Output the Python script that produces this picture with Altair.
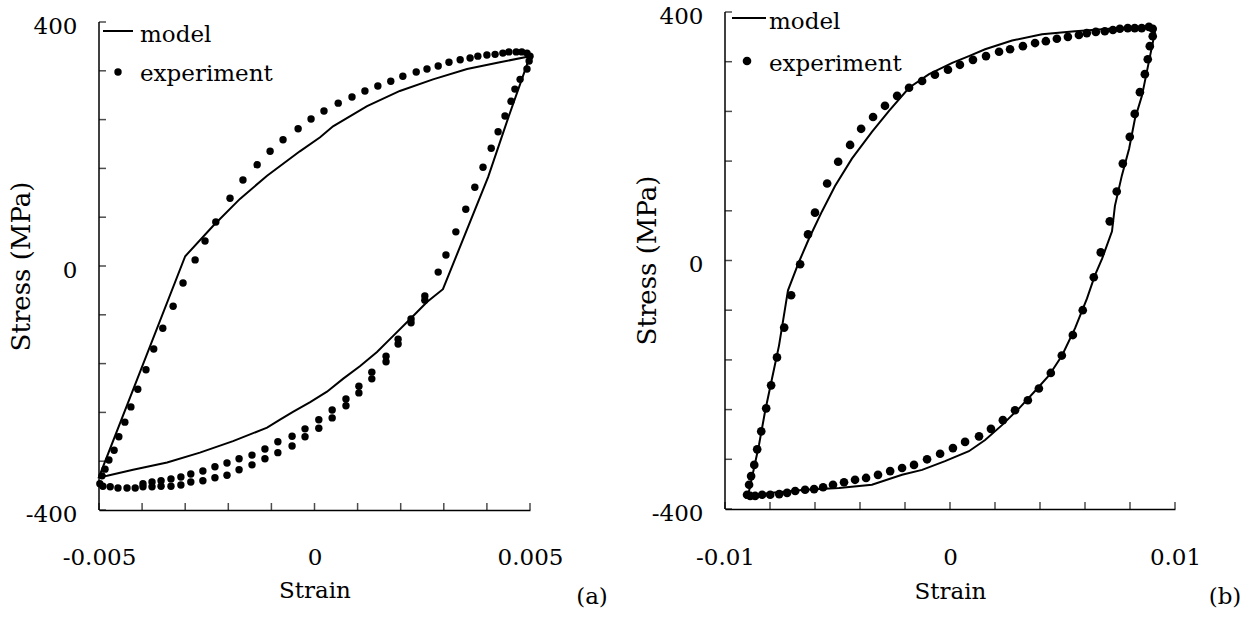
import altair as alt
import pandas as pd

FONT = "DejaVu Serif"
FS = 23

# ---------------- panel (a) ----------------
a_model_strain = [0.005, 0.00451, 0.00403, 0.00298, 0.00261, 0.00222, 0.00182, 0.00145, 0.00106,
                  0.00066, 0.00029, -0.0001, -0.0005, -0.0008, -0.0011, -0.00189, -0.00266,
                  -0.00342, -0.00421, -0.00481, -0.005, -0.003, -0.00235, -0.00173, -0.0011,
                  -0.00034, 0.00013, 0.00043, 0.00122, 0.00198, 0.00275, 0.00354, 0.0043, 0.005]
a_model_stress = [344, 246, 146, -38, -59, -87, -115, -141, -164, -185, -206, -223, -239, -252,
                  -265, -287, -306, -322, -334, -344, -346, 16, 66, 110, 148, 188, 211, 229, 262,
                  287, 306, 323, 334, 344]

a_load_strain = [-0.00498, -0.00493, -0.00486, -0.00477, -0.00465, -0.00454, -0.0044, -0.00426,
                 -0.0041, -0.00391, -0.00373, -0.00352, -0.00328, -0.00305, -0.00277, -0.00254,
                 -0.00229, -0.00196, -0.00166, -0.00133, -0.00103, -0.00073, -0.00038, -0.00008,
                 0.00022, 0.00055, 0.00087, 0.00117, 0.00147, 0.00177, 0.00205, 0.00236, 0.00261,
                 0.00287, 0.00312, 0.00338, 0.00361, 0.00379, 0.004, 0.00419, 0.00437, 0.00451,
                 0.00468, 0.00481, 0.00493, 0.005]
a_load_stress = [-357, -344, -333, -318, -302, -280, -256, -231, -202, -170, -136, -102, -66, -28,
                 10, 41, 72, 111, 141, 166, 188, 207, 225, 241, 254, 267, 277, 287, 295, 303, 311,
                 318, 323, 328, 334, 338, 341, 344, 346, 347, 349, 351, 351, 351, 349, 344]
a_unload_strain = [0.00498, 0.00493, 0.00477, 0.00465, 0.00456, 0.00442, 0.00426, 0.0041, 0.00391,
                   0.00372, 0.00351, 0.00328, 0.00305, 0.00287, 0.00256, 0.00256]
a_unload_stress = [336, 323, 306, 290, 270, 246, 220, 193, 162, 129, 93, 56, 18, -10, -49, -56]
a_lower_strain = [0.00224, 0.00194, 0.00166, 0.00133, 0.00103, 0.00073, 0.00041, 0.0001, -0.00022,
                  -0.00052, -0.00085, -0.00115, -0.00145, -0.00175, -0.00203, -0.00231, -0.00259,
                  -0.00287, -0.0031, -0.00333, -0.00356, -0.00377, -0.00398]
a_lower1_stress = [-87, -120, -148, -174, -197, -218, -236, -252, -267, -279, -288, -300, -310,
                   -316, -323, -329, -336, -341, -346, -349, -352, -354, -357]
a_lower2_stress = [-93, -128, -157, -185, -208, -229, -249, -266, -280, -295, -306, -316, -326,
                   -334, -343, -347, -352, -354, -359, -361, -361, -362, -362]
a_tail_strain = [-0.00416, -0.00435, -0.00456, -0.00474, -0.00491]
a_tail_stress = [-364, -364, -364, -362, -361]

a_exp_strain = a_load_strain + a_unload_strain + a_lower_strain + a_lower_strain + a_tail_strain
a_exp_stress = a_load_stress + a_unload_stress + a_lower1_stress + a_lower2_stress + a_tail_stress

# ---------------- panel (b) ----------------
b_model_strain = [-0.00911, -0.00893, -0.00871, -0.00849, -0.00822, -0.00791, -0.0076, -0.00733,
                  -0.0072, -0.00671, -0.00627, -0.00569, -0.00511, -0.00436, -0.00347, -0.00271,
                  -0.00182, -0.00093, 0.0001, 0.00084, 0.00156, 0.00276, 0.00409, 0.00556, 0.00707,
                  0.00822, 0.00907, 0.00911, 0.00889, 0.00853, 0.00822, 0.00796, 0.00764, 0.00733,
                  0.0072, 0.00676, 0.00644, 0.00609, 0.00556, 0.00498, 0.0044, 0.00378, 0.00307,
                  0.00231, 0.00156, 0.00084, -0.00022, -0.00124, -0.00213, -0.00347, -0.00493,
                  -0.00644, -0.00791, -0.00867, -0.00911]
b_model_stress = [-382, -371, -334, -297, -243, -190, -137, -77, -48, -2, 35, 79, 120, 164, 207, 241,
                  278, 300, 318, 329, 340, 354, 364, 369, 373, 376, 377, 368, 329, 265, 228, 180,
                  137, 88, 47, 3, -24, -61, -109, -153, -185, -210, -238, -265, -289, -307, -323,
                  -337, -345, -361, -366, -369, -374, -377, -382]

b_up_strain = [-0.00902, -0.00893, -0.00884, -0.0087, -0.00857, -0.00839, -0.00817, -0.00795,
               -0.00769, -0.00737, -0.00706, -0.00666, -0.00631, -0.006, -0.00546, -0.00497,
               -0.00444, -0.00395, -0.00342, -0.00289, -0.00235, -0.00182, -0.00124, -0.00067,
               -0.00009, 0.00044, 0.00102, 0.0016, 0.00218, 0.00267, 0.00324, 0.00378, 0.00426,
               0.00475, 0.00524, 0.00573, 0.00608, 0.00648, 0.00688, 0.00724, 0.00755, 0.0079,
               0.00821, 0.00852, 0.00884, 0.00901]
b_up_stress = [-377, -361, -347, -329, -304, -275, -238, -201, -156, -108, -56, -6, 42, 77, 124,
               159, 186, 212, 231, 249, 265, 278, 289, 299, 307, 315, 323, 329, 336, 340, 345, 350,
               353, 357, 360, 363, 366, 368, 369, 371, 373, 374, 374, 374, 376, 373]
b_down_strain = [0.00901, 0.00888, 0.00879, 0.00866, 0.00844, 0.00821, 0.00799, 0.00768, 0.00741,
                 0.0071, 0.0067, 0.00639, 0.0059, 0.00546, 0.00497, 0.00448, 0.00395, 0.00346,
                 0.00289, 0.00235, 0.00182, 0.00129, 0.00067, 0.00013, -0.00044, -0.00102, -0.0016,
                 -0.00213, -0.00266, -0.0032, -0.00373, -0.00422, -0.00471, -0.0052, -0.00564,
                 -0.00604, -0.00644, -0.00688, -0.00724, -0.00759, -0.00799, -0.00835, -0.00866,
                 -0.00888]
b_down_stress = [361, 345, 324, 300, 271, 236, 199, 156, 111, 63, 13, -27, -80, -120, -153, -181,
                 -206, -225, -241, -257, -271, -283, -292, -302, -311, -320, -329, -334, -339, -345,
                 -350, -353, -357, -361, -365, -368, -369, -371, -374, -376, -377, -377, -379, -379]

b_exp_strain = b_up_strain + b_down_strain
b_exp_stress = b_up_stress + b_down_stress

# ---------------- axes / labels ----------------
y_axis_range = [-400, 400]
y_ticks = [-400, -320, -240, -160, -80, 0, 80, 160, 240, 320, 400]
y_labels = [-400, 0, 400]
a_y_view = [-400, 416.4]          # panel (a) plot area reaches a little above its 400 tick
b_y_view = [-400, 400]
a_x_domain = [-0.005, 0.005]
a_x_ticks = [-0.005, -0.004, -0.003, -0.002, -0.001, 0, 0.001, 0.002, 0.003, 0.004, 0.005]
a_x_labels = [-0.005, 0, 0.005]
b_x_domain = [-0.01, 0.01]
b_x_ticks = [-0.01, -0.008, -0.006, -0.004, -0.002, 0, 0.002, 0.004, 0.006, 0.008, 0.01]
b_x_labels = [-0.01, 0, 0.01]
legend_labels = ["model", "experiment"]
x_title = "Strain"
y_title = "Stress (MPa)"
panel_tags = ["(a)", "(b)"]


def panel(model_x, model_y, exp_x, exp_y, x_domain, y_view, x_ticks, x_labels, w, h, dot_size,
          leg, tag, tag_pos, lab_pad, title_y, y_title_y):
    model = pd.DataFrame({"strain": model_x, "stress": model_y, "i": list(range(len(model_x)))})
    exp = pd.DataFrame({"strain": exp_x, "stress": exp_y})
    yt = pd.DataFrame({"stress": y_ticks, "strain": [x_domain[0]] * len(y_ticks)})
    xt = pd.DataFrame({"strain": x_ticks, "stress": [y_axis_range[0]] * len(x_ticks)})
    ydom = pd.DataFrame({"strain": [x_domain[0]], "stress": [y_axis_range[0]],
                         "stress2": [y_axis_range[1]]})

    xs = alt.Scale(domain=x_domain, nice=False, zero=False)
    ys = alt.Scale(domain=y_view, nice=False, zero=False)
    xax = alt.Axis(values=x_labels, labelExpr="'' + datum.value", title=x_title, ticks=False,
                   tickSize=0, grid=False, labelPadding=lab_pad, labelBaseline="alphabetic",
                   labelFlush=False, titleY=title_y, titleBaseline="alphabetic")
    yax = alt.Axis(values=y_labels, labelExpr="'' + datum.value", title=y_title, ticks=False,
                   tickSize=0, grid=False, domain=False, labelPadding=22, labelOffset=4,
                   labelFlush=False, titleX=-78, titleY=y_title_y, titleAngle=270,
                   titleBaseline="middle", titleAlign="center", titleFontSize=26)

    x_enc = alt.X("strain:Q", scale=xs, axis=xax)
    y_enc = alt.Y("stress:Q", scale=ys, axis=yax)

    line = alt.Chart(model).mark_line(color="black", strokeWidth=2).encode(
        x=x_enc, y=y_enc, order=alt.Order("i:Q"))
    dots = alt.Chart(exp).mark_circle(color="black", opacity=1, size=dot_size).encode(
        x=alt.X("strain:Q", scale=xs), y=alt.Y("stress:Q", scale=ys))
    ydomain = alt.Chart(ydom).mark_rule(color="black", strokeWidth=1.5).encode(
        x=alt.X("strain:Q", scale=xs), y=alt.Y("stress:Q", scale=ys), y2="stress2:Q")
    ytk = alt.Chart(yt).mark_tick(orient="horizontal", size=7, thickness=1.5, color="black",
                                  xOffset=3.5).encode(
        x=alt.X("strain:Q", scale=xs), y=alt.Y("stress:Q", scale=ys))
    xtk = alt.Chart(xt).mark_tick(orient="vertical", size=7, thickness=1.5, color="black",
                                  yOffset=-3.5).encode(
        x=alt.X("strain:Q", scale=xs), y=alt.Y("stress:Q", scale=ys))

    lx0, lx1, ly, tx, ty1, dx, dy, ty2 = leg
    base = alt.Chart(pd.DataFrame({"k": [0]}))
    leg_line = base.mark_rule(color="black", strokeWidth=2).encode(
        x=alt.value(lx0), x2=alt.value(lx1), y=alt.value(ly))
    leg_dot = base.mark_circle(color="black", opacity=1, size=dot_size).encode(
        x=alt.value(dx), y=alt.value(dy))
    leg_t1 = base.mark_text(align="left", baseline="alphabetic", font=FONT, fontSize=FS,
                            color="black").encode(
        x=alt.value(tx), y=alt.value(ty1), text=alt.value(legend_labels[0]))
    leg_t2 = base.mark_text(align="left", baseline="alphabetic", font=FONT, fontSize=FS,
                            color="black").encode(
        x=alt.value(tx), y=alt.value(ty2), text=alt.value(legend_labels[1]))
    tag_t = base.mark_text(align="center", baseline="alphabetic", font=FONT, fontSize=FS,
                           color="black").encode(
        x=alt.value(tag_pos[0]), y=alt.value(tag_pos[1]), text=alt.value(tag))

    return alt.layer(line, dots, ydomain, ytk, xtk, leg_line, leg_dot, leg_t1, leg_t2,
                     tag_t).properties(width=w, height=h)


left = panel(a_model_strain, a_model_stress, a_exp_strain, a_exp_stress, a_x_domain, a_y_view,
             a_x_ticks, a_x_labels, 431, 498, 55,
             (4, 34, 19, 41, 30, 19, 60, 69), panel_tags[0], (493, 592), 54, 87, 254)
right = panel(b_model_strain, b_model_stress, b_exp_strain, b_exp_stress, b_x_domain, b_y_view,
              b_x_ticks, b_x_labels, 450, 497, 75,
              (7, 41, 6, 44, 17, 22, 49, 59), panel_tags[1], (500, 592), 55, 89, 248)

chart = alt.hconcat(left, right, spacing=26).properties(
    padding={"left": 8, "top": 5, "right": 5, "bottom": 5}
).configure_view(stroke=None).configure_axis(
    domainColor="black", domainWidth=1.5, labelFont=FONT, labelFontSize=FS, labelColor="black",
    titleFont=FONT, titleFontSize=FS, titleFontWeight="normal", titleColor="black"
)

chart.save("out.html", embed_options={"renderer": "svg", "actions": False})
